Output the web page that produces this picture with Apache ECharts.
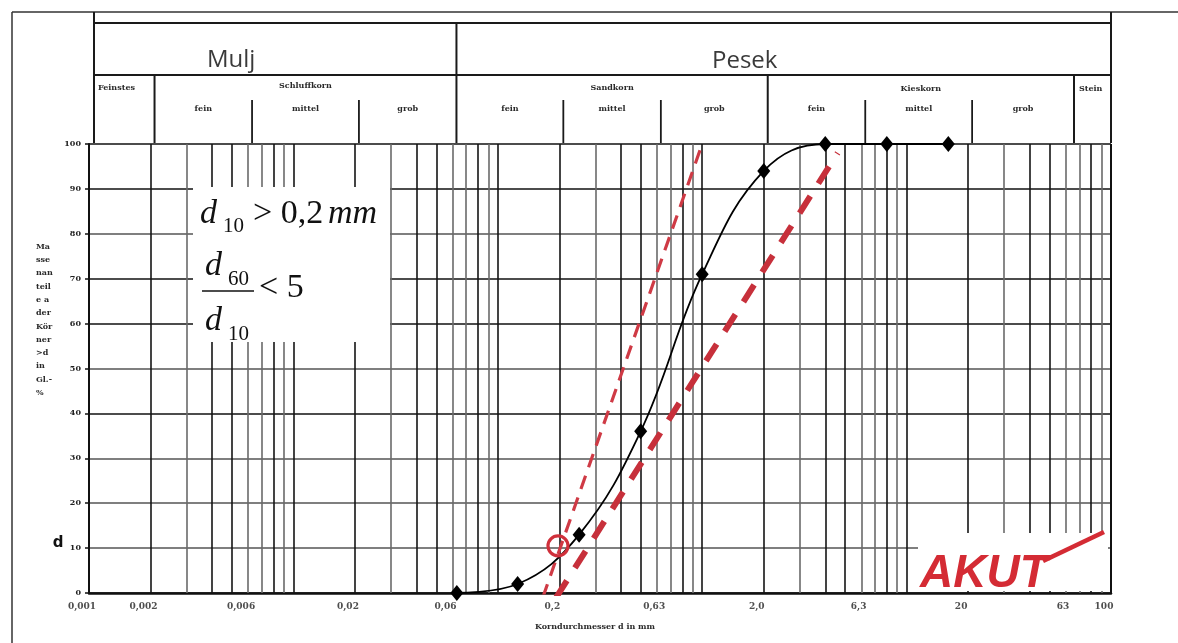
<!DOCTYPE html>
<html><head><meta charset="utf-8">
<script src="https://cdn.jsdelivr.net/npm/echarts@6/dist/echarts.min.js"></script>
<style>html,body{margin:0;padding:0;background:#fff}#c{width:1178px;height:643px}</style>
</head><body><div id="c"></div>
<script>
// ---- data ----
const sieveSizes  = [0.063, 0.125, 0.25, 0.5, 1.0, 2.0, 4.0, 8.0, 16.0];
const passingPct  = [0, 2, 13, 36, 71, 94, 100, 100, 100];
const limitFine   = [[0.166, -1], [1.0, 100]];
const limitCoarse = [[0.193, -1], [4.6, 98]];
const d10Point    = [[0.197, 10.5]];
const xTickValues = [0.001, 0.002, 0.006, 0.02, 0.06, 0.2, 0.63, 2, 6.3, 20, 63, 100];
const xTickLabels = ['0,001', '0,002', '0,006', '0,02', '0,06', '0,2', '0,63', '2,0', '6,3', '20', '63', '100'];
const gridDecades = [0.001, 0.01, 0.1, 1, 10];
const gridMultipliers = [1, 2, 3, 4, 5, 6, 7, 8, 9];
const grayMultipliers = [3, 6, 7, 9];
const mainBounds  = [0.002, 0.06, 2, 63];
const subBounds   = [0.006, 0.02, 0.2, 0.6, 6, 20];
const yNameLines  = ['Ma', 'sse', 'nan', 'teil', 'e a', 'der', 'Kör', 'ner', '>d', 'in', 'Gl.-', '%'];

const SERIF = '"DejaVu Serif", "Liberation Serif", serif';
const chart = echarts.init(document.getElementById('c'), null, {renderer: 'canvas'});

const vLines = [];
gridDecades.forEach(d => gridMultipliers.forEach(m => {
  const v = +(d * m).toPrecision(6);
  if (v > 0.001) vLines.push({xAxis: v, lineStyle: {color: grayMultipliers.includes(m) ? '#6a6a6a' : '#151515', width: 1.6, type: 'solid'}});
}));
vLines.push({xAxis: 100, lineStyle: {color: '#111', width: 2, type: 'solid'}});

chart.setOption({
  animation: false,
  backgroundColor: '#fff',
  grid: {left: 89, top: 144, width: 1022, height: 449, containLabel: false},
  xAxis: {
    type: 'log', logBase: 10, min: 0.001, max: 100,
    axisLine: {show: true, onZero: false, lineStyle: {color: '#111', width: 2.5}},
    axisTick: {show: false}, axisLabel: {show: false}, splitLine: {show: false}, minorSplitLine: {show: false}
  },
  yAxis: {
    type: 'value', min: 0, max: 100, interval: 10,
    axisLine: {show: true, lineStyle: {color: '#111', width: 2}},
    axisTick: {show: true, length: 4, lineStyle: {color: '#111', width: 1.5}},
    axisLabel: {color: '#222', fontFamily: SERIF, fontWeight: 'bold', fontSize: 8, margin: 8},
    splitLine: {show: true, lineStyle: {width: 1.5, color: ['#111', '#555', '#555', '#555', '#111', '#555', '#111', '#111', '#555', '#111', '#111']}}
  },
  series: [
    {
      type: 'scatter', name: 'ticks', z: 1, silent: true, symbolSize: 0,
      data: xTickValues.map((v, i) => ({value: [v, 0], label: {formatter: xTickLabels[i]}})),
      label: {show: true, position: 'bottom', distance: 9, offset: [-7, 0], color: '#222', fontFamily: SERIF, fontWeight: 'bold', fontSize: 9},
      markLine: {silent: true, z: 1, precision: 6, symbol: ['none', 'none'], label: {show: false}, animation: false, data: vLines}
    },
    {
      type: 'line', name: 'fine', z: 9, silent: true, symbol: 'none', data: limitFine,
      lineStyle: {color: '#cf3a45', width: 3.2, type: [14, 9], cap: 'butt', opacity: 1}
    },
    {
      type: 'line', name: 'coarse', z: 9, silent: true, symbol: 'none', data: limitCoarse,
      lineStyle: {color: '#c7303b', width: 6, type: [20, 15], cap: 'butt', opacity: 1}
    },
    {
      type: 'line', name: 'sieve', z: 10, smooth: 0.4,
      data: sieveSizes.map((s, i) => [s, passingPct[i]]),
      symbol: 'diamond', symbolSize: [13, 16],
      itemStyle: {color: '#000', opacity: 1}, lineStyle: {color: '#000', width: 1.8}
    },
    {
      type: 'scatter', name: 'd10', z: 11, data: d10Point, symbol: 'circle', symbolSize: 20,
      itemStyle: {color: 'rgba(255,255,255,0)', borderColor: '#d0303b', borderWidth: 3.2, opacity: 1}
    }
  ]
});

const px = v => chart.convertToPixel({xAxisIndex: 0}, v) + 4;
const L = (x1, y1, x2, y2, w, c) => ({type: 'line', z: 20, silent: true, shape: {x1, y1, x2, y2}, style: {stroke: c || '#1a1a1a', lineWidth: w || 1.5}});
const T = (text, x, y, font, align, fill, z) => ({type: 'text', z: z || 21, silent: true, x: 0, y: 0,
  style: {text, x, y, font, textAlign: align || 'center', align: align || 'center', textVerticalAlign: 'middle', verticalAlign: 'middle', fill: fill || '#2a2a2a'}});

const g = [];
// outer frame & header box
g.push(L(12, 12, 1178, 12, 1.5, '#333'));
g.push(L(12, 12, 12, 643, 1.5, '#333'));
g.push(L(94, 12, 94, 143, 2));
g.push(L(1111, 12, 1111, 143, 2));
g.push(L(94, 23, 1111, 23, 2));
g.push(L(94, 75, 1111, 75, 2));
g.push(L(px(0.06), 23, px(0.06), 75, 2));
mainBounds.forEach(v => g.push(L(px(v), 75, px(v), 143, 2)));
subBounds.forEach(v => g.push(L(px(v), 100, px(v), 143, 1.8)));
// header texts
const SANS = '"Open Sans", "Noto Sans", sans-serif';
g.push(T('Mulj', 207, 60, `24px ${SANS}`, 'left', '#3a3a3a'));
g.push(T('Pesek', 712, 61, `24px ${SANS}`, 'left', '#3a3a3a'));
const hf = `bold 8px ${SERIF}`;
const mid = (a, b) => (px(a) + px(b)) / 2;
g.push(T('Feinstes', 98, 88, hf, 'left'));
g.push(T('Schluffkorn', mid(0.002, 0.06), 86, hf));
g.push(T('Sandkorn', mid(0.06, 2), 88, hf));
g.push(T('Kieskorn', mid(2, 63), 89, hf));
g.push(T('Stein', 1079, 89, hf, 'left'));
[[0.002, 0.006, 'fein'], [0.006, 0.02, 'mittel'], [0.02, 0.06, 'grob'],
 [0.06, 0.2, 'fein'], [0.2, 0.6, 'mittel'], [0.6, 2, 'grob'],
 [2, 6, 'fein'], [6, 20, 'mittel'], [20, 63, 'grob']].forEach(([a, b, t]) => g.push(T(t, mid(a, b), 109, hf)));
// y axis name
g.push({type: 'text', z: 21, silent: true, style: {text: yNameLines.join('\n'), x: 36, y: 240, font: `bold 8px ${SERIF}`, lineHeight: 13.3, fill: '#2a2a2a', textAlign: 'left', align: 'left', textVerticalAlign: 'top', verticalAlign: 'top'}});
g.push(T('d', 58, 543, `bold 15px "DejaVu Sans", sans-serif`, 'center', '#111'));
// x axis title
g.push(T('Korndurchmesser d in mm', 595, 627, `bold 8px ${SERIF}`));
// formula box
const TM = '"Liberation Serif", "Times New Roman", serif';
g.push({type: 'rect', z: 3, silent: true, shape: {x: 193, y: 187, width: 197, height: 155}, style: {fill: '#fff'}});
g.push(T('d', 200, 214, `italic 34px ${TM}`, 'left', '#111', 22));
g.push(T('10', 223, 226, `21px ${TM}`, 'left', '#111', 22));
g.push(T('> 0,2', 253, 214, `34px ${TM}`, 'left', '#111', 22));
g.push(T('mm', 328, 214, `italic 34px ${TM}`, 'left', '#111', 22));
g.push(T('d', 205, 266, `italic 34px ${TM}`, 'left', '#111', 22));
g.push(T('60', 228, 279, `21px ${TM}`, 'left', '#111', 22));
g.push(L(202, 291, 254, 291, 1.5, '#111'));
g.push(T('< 5', 259, 288, `34px ${TM}`, 'left', '#111', 22));
g.push(T('d', 205, 321, `italic 34px ${TM}`, 'left', '#111', 22));
g.push(T('10', 228, 334, `21px ${TM}`, 'left', '#111', 22));
// logo box
g.push({type: 'rect', z: 3, silent: true, shape: {x: 918, y: 533, width: 190, height: 58}, style: {fill: '#fff'}});
g.push(T('AKUT', 920, 574, `italic bold 46px "Liberation Sans", sans-serif`, 'left', '#d42b34', 22));
g.push({type: 'polygon', z: 22, silent: true, shape: {points: [[1042, 559], [1103, 530], [1105, 534], [1044, 563]]}, style: {fill: '#d42b34'}});

chart.setOption({graphic: {elements: g}});
</script>
</body></html>
